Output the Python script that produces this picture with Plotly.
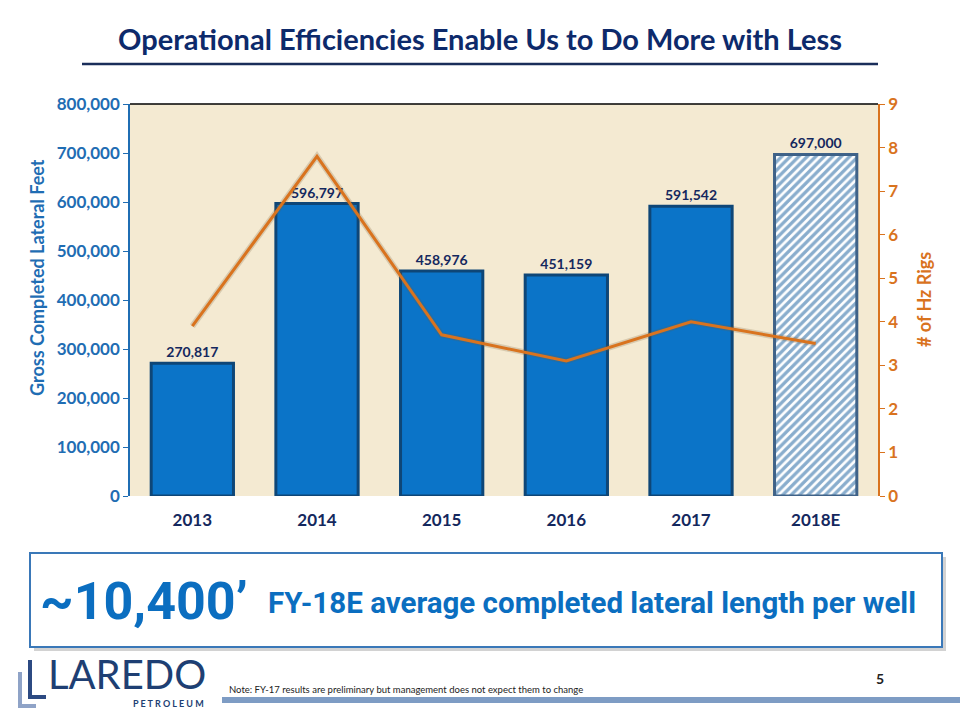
import plotly.graph_objects as go

years = ["2013", "2014", "2015", "2016", "2017", "2018E"]
lateral_feet = [270817, 596797, 458976, 451159, 591542, 697000]
hz_rigs = [3.9, 7.8, 3.7, 3.1, 4.0, 3.5]
left_ticks = [0, 100000, 200000, 300000, 400000, 500000, 600000, 700000, 800000]
right_ticks = [0, 1, 2, 3, 4, 5, 6, 7, 8, 9]

W, H = 960, 720
def px(x): return x / W
def py(y): return 1 - y / H

BLUE = "#0B74C8"
DARK = "#0E4677"
NAVY = "#14285E"
ORANGE = "#D9731E"
AXBLUE = "#1F6DB3"
FONT = "Lato"
NARROW = "Roboto"

fig = go.Figure()

fig.add_trace(go.Bar(
    x=years[:5], y=lateral_feet[:5], width=0.66,
    marker=dict(color=BLUE, line=dict(color=DARK, width=3)),
    text=[f"{v:,}" for v in lateral_feet[:5]], textposition="outside",
    textfont=dict(family=FONT, size=14, color=NAVY, weight="bold"),
    cliponaxis=False, showlegend=False, yaxis="y"))
fig.add_trace(go.Bar(
    x=years[5:], y=lateral_feet[5:], width=0.66,
    marker=dict(color="white", line=dict(color="#3f6288", width=3),
                pattern=dict(shape="/", fgcolor="#135C9C", bgcolor="white", size=6, solidity=0.55)),
    text=[f"{v:,}" for v in lateral_feet[5:]], textposition="outside",
    textfont=dict(family=FONT, size=14, color=NAVY, weight="bold"),
    cliponaxis=False, showlegend=False, yaxis="y"))
fig.add_trace(go.Scatter(x=years, y=hz_rigs, mode="lines", yaxis="y2",
                         line=dict(color="rgba(120,90,50,0.22)", width=6), showlegend=False,
                         hoverinfo="skip"))
fig.add_trace(go.Scatter(x=years, y=hz_rigs, mode="lines", yaxis="y2",
                         line=dict(color=ORANGE, width=3), showlegend=False))

fig.update_layout(
    width=W, height=H, margin=dict(l=0, r=0, t=0, b=0, autoexpand=False),
    paper_bgcolor="white", plot_bgcolor="#F4EAD2",
    barmode="overlay",
    xaxis=dict(domain=[px(130), px(878)], showgrid=False, showline=False, automargin=False,
               tickfont=dict(family=FONT, size=17, color=NAVY, weight="bold"), ticks="",
               ticklabelstandoff=12),
    yaxis=dict(domain=[py(496), py(104)], range=[0, 800000], tickvals=left_ticks,
               tickformat=",d", showgrid=False, showline=True, linecolor=AXBLUE, linewidth=1.5,
               ticks="outside", tickcolor=AXBLUE, ticklen=5, zeroline=False, automargin=False,
               tickfont=dict(family=FONT, size=17, color=AXBLUE, weight="bold")),
    yaxis2=dict(overlaying="y", side="right", anchor="x", range=[0, 9], tickvals=right_ticks,
                showgrid=False, showline=True, linecolor=ORANGE, linewidth=1.5, automargin=False,
                ticks="outside", tickcolor=ORANGE, ticklen=5, zeroline=False,
                tickfont=dict(family=FONT, size=17, color=ORANGE, weight="bold")),
)

shapes = [
    dict(type="line", xref="paper", yref="paper", x0=px(130), x1=px(878), y0=py(104), y1=py(104),
         line=dict(color="black", width=1.5)),
    dict(type="line", xref="paper", yref="paper", x0=px(82), x1=px(878), y0=py(64), y1=py(64),
         line=dict(color="#1A2E5A", width=2.5)),
    dict(type="rect", xref="paper", yref="paper", x0=px(34), x1=px(946), y0=py(651), y1=py(557),
         line=dict(width=0), fillcolor="#d2d2d2"),
    dict(type="rect", xref="paper", yref="paper", x0=px(30), x1=px(942), y0=py(647), y1=py(553),
         line=dict(color="#3A78B8", width=2), fillcolor="white"),
    dict(type="rect", xref="paper", yref="paper", x0=px(222), x1=px(960), y0=py(703), y1=py(697),
         line=dict(width=0), fillcolor="#7E9CC4"),
    dict(type="line", xref="paper", yref="paper", x0=px(20), x1=px(20), y0=py(708), y1=py(672),
         line=dict(color="#8FA3C7", width=4)),
    dict(type="line", xref="paper", yref="paper", x0=px(18), x1=px(36), y0=py(706), y1=py(706),
         line=dict(color="#8FA3C7", width=4)),
    dict(type="line", xref="paper", yref="paper", x0=px(30), x1=px(30), y0=py(699), y1=py(660),
         line=dict(color="#2C4A82", width=4)),
    dict(type="line", xref="paper", yref="paper", x0=px(28), x1=px(46), y0=py(697), y1=py(697),
         line=dict(color="#2C4A82", width=4)),
]
fig.update_layout(shapes=shapes)

ann = [
    dict(text="Operational Efficiencies Enable Us to Do More with Less", x=px(480), y=py(38),
         font=dict(family=FONT, size=29, color="#0D2A6B", weight="bold")),
    dict(text="Gross Completed Lateral Feet", x=px(37), y=py(278), textangle=-90,
         font=dict(family=FONT, size=18, color=AXBLUE, weight="bold")),
    dict(text="# of Hz Rigs", x=px(924), y=py(300), textangle=-90,
         font=dict(family=FONT, size=18, color=ORANGE, weight="bold")),
    dict(text="~10,400’", x=px(38), y=py(601), xanchor="left",
         font=dict(family=NARROW, size=52, color="#0B6EC0", weight="bold")),
    dict(text="FY-18E average completed lateral length per well", x=px(266), y=py(603), xanchor="left",
         font=dict(family=NARROW, size=29.5, color="#0B6EC0", weight="bold")),
    dict(text="LAREDO", x=px(46), y=py(674), xanchor="left",
         font=dict(family=FONT, size=40, color="#1E3F73")),
    dict(text="P E T R O L E U M", x=px(206), y=py(703), xanchor="right",
         font=dict(family=FONT, size=9, color="#1E3F73", weight="bold")),
    dict(text="Note: FY-17 results are preliminary but management does not expect them to change",
         x=px(227), y=py(689), xanchor="left",
         font=dict(family=FONT, size=9.5, color="#222")),
    dict(text="5", x=px(880), y=py(678), font=dict(family=FONT, size=14, color="#222", weight="bold")),
]
for a in ann:
    a.update(xref="paper", yref="paper", showarrow=False)
    a.setdefault("xanchor", "center")
    a.setdefault("yanchor", "middle")
fig.update_layout(annotations=ann)

fig.write_html("out.html")
